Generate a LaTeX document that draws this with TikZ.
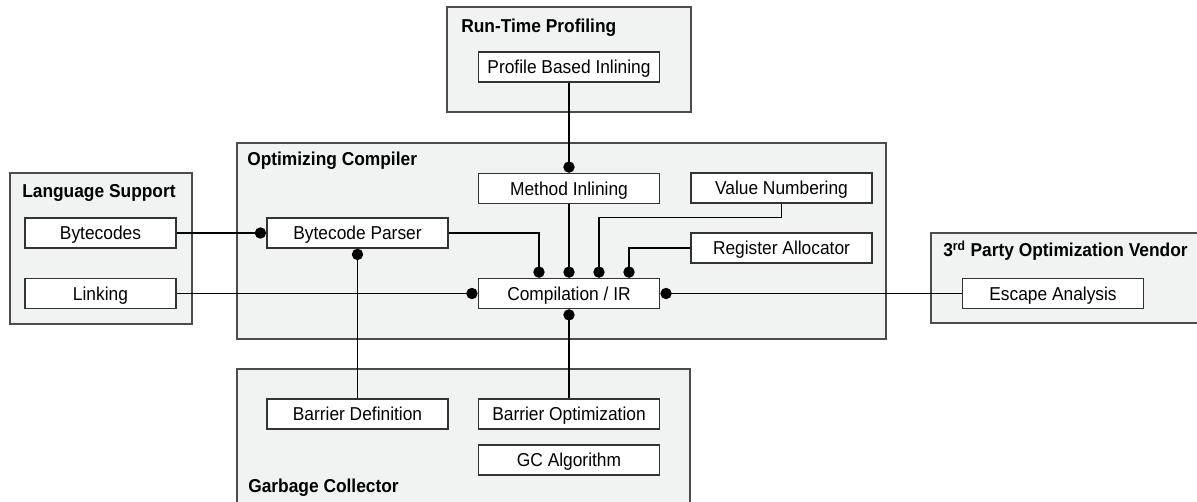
\documentclass[tikz,border=0pt]{standalone}
\usepackage{fontspec}
\setmainfont[FakeStretch=0.93]{Liberation Sans}
\usetikzlibrary{arrows.meta}
\definecolor{grpfill}{HTML}{F1F2F2}

\begin{document}
\begin{tikzpicture}[x=0.75pt,y=-0.75pt,
  font=\fontsize{14}{16}\selectfont,
  grp/.style={draw=black!70, line width=1pt, fill=grpfill},
  grplabel/.style={anchor=base west, inner sep=0pt, font=\fontsize{14}{16}\selectfont\bfseries},
  blk/.style={draw=black!80, line width=1.1pt, fill=white, minimum height=22.5pt, inner sep=0pt, text height=10pt, text depth=0pt},
  wideblk/.style={blk, minimum width=136pt},
  smallblk/.style={blk, minimum width=113pt},
  link/.style={line width=0.8pt, -{Circle[length=8.5pt]}}]
\clip (0,0) rectangle (1197,502);

\draw[grp] (447,7) rectangle (691,112);
\draw[grp] (237,143) rectangle (886,339);
\draw[grp] (10,173) rectangle (192,324);
\draw[grp] (931,233) rectangle (1205,323);
\draw[grp] (237,369) rectangle (690,512);

\node[grplabel] (rtplbl) at (461,33) {Run-Time Profiling};
\node[grplabel] (optlbl) at (247,166) {Optimizing Compiler};
\node[grplabel] (langlbl) at (22,198) {Language Support};
\node[grplabel] (vendlbl) at (943,257) {3\textsuperscript{rd} Party Optimization Vendor};
\node[grplabel] (gclbl) at (248,493) {Garbage Collector};

\node[wideblk] (profile) at (569,67) {Profile Based Inlining};
\node[wideblk] (inlining) at (569,188.5) {Method Inlining};
\node[wideblk] (valnum) at (781.5,188) {Value Numbering};
\node[wideblk] (regalloc) at (781.5,248) {Register Allocator};
\node[wideblk] (parser) at (357.5,233) {Bytecode Parser};
\node[wideblk] (ir) at (569,293.5) {Compilation / IR};
\node[smallblk] (bytecodes) at (100.5,233) {Bytecodes};
\node[smallblk] (linking) at (100.5,293.5) {Linking};
\node[wideblk] (escape) at (1053,293.5) {Escape Analysis};
\node[wideblk] (bdef) at (357.5,414) {Barrier Definition};
\node[wideblk] (bopt) at (569,414) {Barrier Optimization};
\node[wideblk] (gcalg) at (569,460) {GC Algorithm};

\draw[link] (bytecodes) -- (parser);
\draw[link] (linking) -- (ir);
\draw[link] (escape) -- (ir);
\draw[link] (profile) -- (inlining);
\draw[link] (inlining) -- (ir);
\draw[link] (parser.east) -| ([xshift=-22.5pt]ir.north);
\draw[link] (valnum.south) -- ++(0,14) -| ([xshift=22.5pt]ir.north);
\draw[link] (regalloc.west) -| ([xshift=45pt]ir.north);
\draw[link] (bdef) -- (parser);
\draw[link] (bopt) -- (ir);
\end{tikzpicture}
\end{document}
